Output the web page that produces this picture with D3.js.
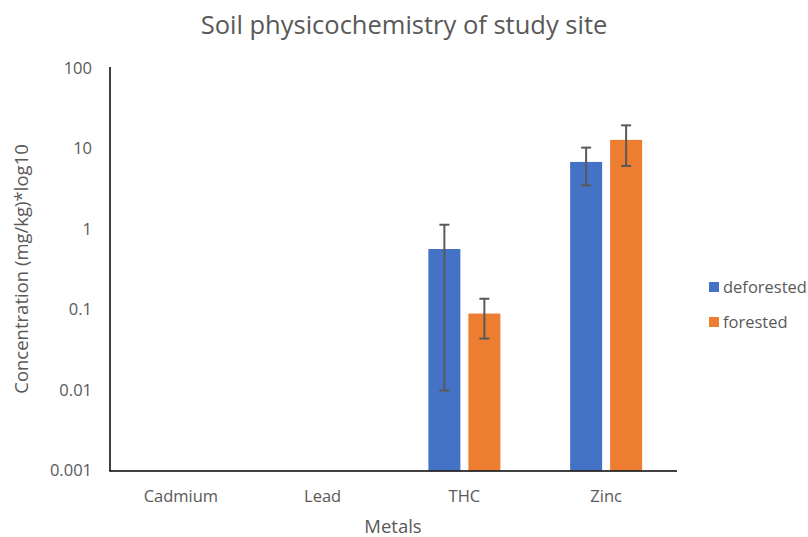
<!DOCTYPE html>
<html><head><meta charset="utf-8">
<script src="https://cdn.jsdelivr.net/npm/d3@7"></script>
<style>body{margin:0;background:#fff}svg{display:block}text{font-family:"Open Sans",sans-serif;fill:#595959}</style>
</head><body><svg id="c" width="808" height="537"></svg>
<script>
const categories = ["Cadmium","Lead","THC","Zinc"];
const seriesNames = ["deforested","forested"];
const deforested = [null,null,0.564,6.81];
const forested = [null,null,0.0891,12.8];
const deforestedErrLow = [null,null,0.00984,3.48];
const deforestedErrHigh = [null,null,1.13,10.26];
const forestedErrLow = [null,null,0.0436,6.08];
const forestedErrHigh = [null,null,0.136,19.4];
const yTicks = [0.001,0.01,0.1,1,10,100];
const colors = ["#4472C4","#ED7D31"];

const svg = d3.select("#c");
const L=110,R=677,T=68,B=470.5;
const x = d3.scaleBand().domain(categories).range([L,R]).paddingInner(0).paddingOuter(0);
const y = d3.scaleLog().domain([0.001,100]).range([B,T]);
const inner = d3.scaleBand().domain(seriesNames).range([-36,36]).paddingInner(0.2);

const series = [
  {name:"deforested",vals:deforested,lo:deforestedErrLow,hi:deforestedErrHigh,color:colors[0]},
  {name:"forested",vals:forested,lo:forestedErrLow,hi:forestedErrHigh,color:colors[1]}
];

series.forEach(s=>{
  categories.forEach((c,i)=>{
    const v=s.vals[i]; if(v==null) return;
    const cx = x(c)+x.bandwidth()/2;
    const x0 = cx+inner(s.name);
    svg.append("rect").attr("x",x0).attr("y",y(v)).attr("width",inner.bandwidth()).attr("height",B-y(v)).attr("fill",s.color);
  });
});
series.forEach(s=>{
  categories.forEach((c,i)=>{
    const v=s.vals[i]; if(v==null) return;
    const cx = x(c)+x.bandwidth()/2;
    const xm = cx+inner(s.name)+inner.bandwidth()/2;
    const g=svg.append("g").attr("stroke","#595959").attr("stroke-width",2);
    g.append("line").attr("x1",xm).attr("x2",xm).attr("y1",y(s.hi[i])).attr("y2",y(s.lo[i]));
    [s.hi[i],s.lo[i]].forEach(e=>g.append("line").attr("x1",xm-5).attr("x2",xm+5).attr("y1",y(e)).attr("y2",y(e)));
  });
});

// axes
const yAxis = d3.axisLeft(y).tickValues(yTicks).tickSize(0).tickPadding(18).tickFormat(d=>String(d));
const gy = svg.append("g").attr("transform",`translate(${L},0)`).call(yAxis);
gy.select(".domain").attr("stroke","#000").attr("stroke-width",1.5).attr("d",`M0,${T-1}V${B+0.5}`);
gy.selectAll("text").attr("font-size",16.5).attr("fill","#595959").attr("font-family","Open Sans");

const xAxis = d3.axisBottom(x).tickSize(0).tickPadding(19);
const gx = svg.append("g").attr("transform",`translate(0,${B+0.5})`).call(xAxis);
gx.select(".domain").attr("stroke","#000").attr("stroke-width",1.5).attr("d",`M${L-0.75},0H${R}`);
gx.selectAll("text").attr("font-size",16.5).attr("fill","#595959").attr("font-family","Open Sans");

svg.append("text").attr("x",404).attr("y",34).attr("text-anchor","middle").attr("font-size",25.5).text("Soil physicochemistry of study site");
svg.append("text").attr("x",393).attr("y",533).attr("text-anchor","middle").attr("font-size",18.5).text("Metals");
svg.append("text").attr("transform","translate(28,269) rotate(-90)").attr("text-anchor","middle").attr("font-size",18.5).text("Concentration (mg/kg)*log10");

// legend
seriesNames.forEach((n,i)=>{
  const ly = 287 + i*35;
  svg.append("rect").attr("x",709).attr("y",ly-5).attr("width",10).attr("height",10).attr("fill",colors[i]);
  svg.append("text").attr("x",723).attr("y",ly+6).attr("font-size",16.5).text(n);
});
</script></body></html>
